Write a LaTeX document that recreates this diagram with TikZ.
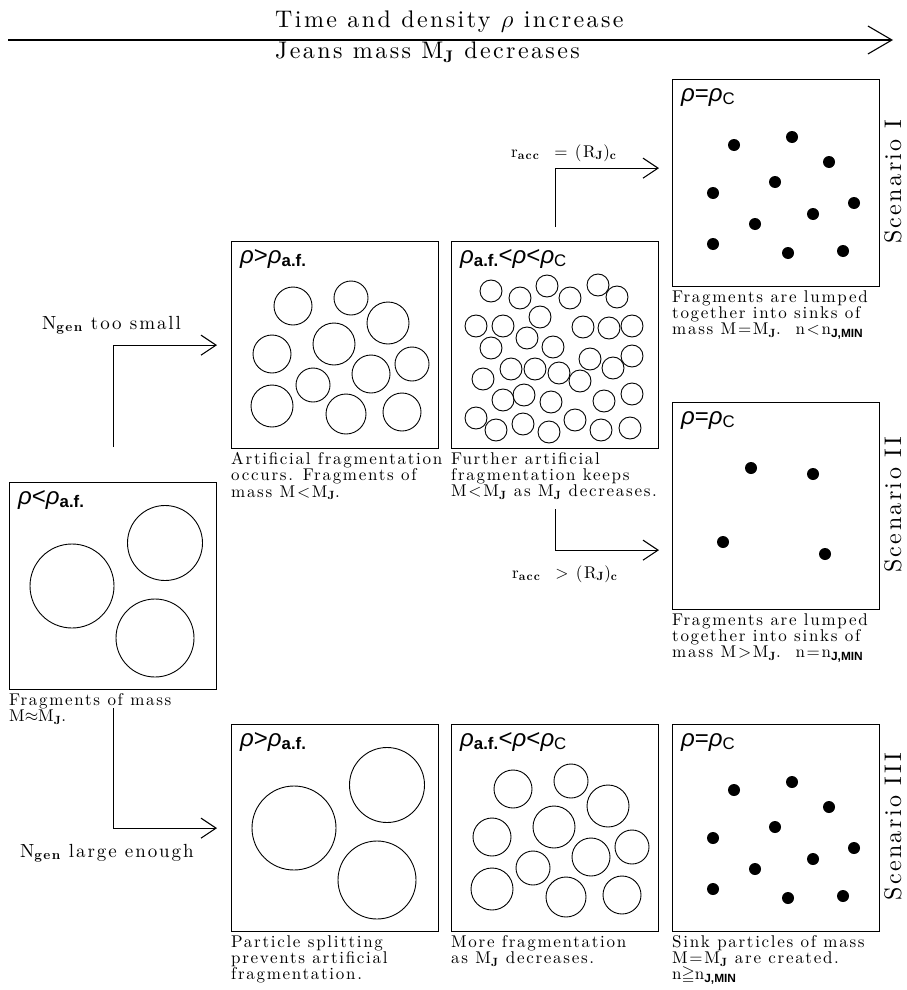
\documentclass[tikz,border=0pt]{standalone}
\usepackage{fontspec}
\usepackage{amssymb}
\usetikzlibrary{arrows.meta}
\newfontfamily\hv{Liberation Sans}
\newfontfamily\capf[LetterSpace=10,BoldFont=lmroman10-bold.otf]{lmroman10-regular.otf}
\newcommand\sbf[1]{\textsubscript{\bfseries #1}}
\newcommand\ssf[1]{\textsubscript{\hv\bfseries #1}}
\newcommand\rh{{\hv\itshape ρ}}
\newcommand\af{\textsubscript{\hv\bfseries a.f.}}
\newcommand\rc{\textsubscript{\hv C}}
\tikzset{
  box/.style={draw, line width=1.3pt, minimum width=207pt, minimum height=207pt, inner sep=0pt, anchor=north west},
  captxt/.style={font={\capf\fontsize{17}{16.2}\selectfont\lineskiplimit=-20pt}, align=left, inner sep=0pt},
  hd/.style={font={\capf\fontsize{24}{26}\selectfont}, inner sep=0pt},
  lbl/.style={font={\capf\fontsize{19}{20}\selectfont}, inner sep=0pt},
  blab/.style={font={\hv\fontsize{24}{26}\selectfont}, inner sep=0pt, anchor=base west},
  arr/.style={line width=1.1pt, -{Straight Barb[length=15pt,width=20pt]}},
  circ/.style={line width=0.9pt},
}
\begin{document}
\begin{tikzpicture}[x=1pt,y=-1pt]
\useasboundingbox (0,0) rectangle (907,990);
% header
\coordinate (h0) at (8,40);
\coordinate (h1) at (893,40);
\draw[line width=1.1pt, -{Straight Barb[length=24pt,width=28pt]}] (h0) -- (h1);
\node[hd, anchor=base west] (t1) at (275,28) {Time and density $\rho$ increase};
\node[hd, anchor=base west] (t2) at (275,59) {Jeans mass M\sbf{J} decreases};
% boxes
\node[box] (A) at (9,482) {};
\node[box] (B) at (231,241) {};
\node[box] (C) at (451,241) {};
\node[box] (D) at (672,79) {};
\node[box] (E) at (672,402) {};
\node[box] (F) at (231,724) {};
\node[box] (G) at (451,724) {};
\node[box] (H) at (672,724) {};
% box labels
\node[blab] (lA) at ([xshift=9pt,yshift=-22pt]A.north west) {\rh<\rh\af};
\node[blab] (lB) at ([xshift=9pt,yshift=-22pt]B.north west) {\rh>\rh\af};
\node[blab] (lC) at ([xshift=9pt,yshift=-22pt]C.north west) {\rh\af<\rh<\rh\rc};
\node[blab] (lD) at ([xshift=9pt,yshift=-22pt]D.north west) {\rh=\rh\rc};
\node[blab] (lE) at ([xshift=9pt,yshift=-22pt]E.north west) {\rh=\rh\rc};
\node[blab] (lF) at ([xshift=9pt,yshift=-22pt]F.north west) {\rh>\rh\af};
\node[blab] (lG) at ([xshift=9pt,yshift=-22pt]G.north west) {\rh\af<\rh<\rh\rc};
\node[blab] (lH) at ([xshift=9pt,yshift=-22pt]H.north west) {\rh=\rh\rc};
% three big circles
\foreach \b in {A,F}{
  \begin{scope}[shift={(\b.north west)}]
    \foreach \x/\y/\r in {156/61/37.5, 63/104/42, 146/156/39}
      \draw[circ] (\x,\y) circle (\r pt);
  \end{scope}
}
% eleven medium circles
\foreach \b in {B,G}{
  \begin{scope}[shift={(\b.north west)}]
    \foreach \x/\y/\r in {62/65/19, 120/57/17, 157/82/21, 103/103/21, 41/113/19, 181/123/17, 140/133/19, 82/144/17, 41/165/21, 115/173/20, 171/171/19}
      \draw[circ] (\x,\y) circle (\r pt);
  \end{scope}
}
% many small circles
\begin{scope}[shift={(C.north west)}]
  \foreach \x/\y in {40/50,69/57,96/45,119/57,147/44,166/56,25/85,52/85,89/76,132/86,158/87,181/85,40/107,76/97,102/106,139/118,162/127,181/115,60/128,84/128,108/132,32/138,129/140,52/159,73/154,100/161,153/160,181/153,25/177,45/189,72/183,98/191,124/179,150/189,179/187}
    \draw[circ] (\x,\y) circle (11pt);
\end{scope}
% sink dots
\foreach \b in {D,H}{
  \begin{scope}[shift={(\b.north west)}]
    \foreach \x/\y in {62/66, 120/58, 157/83, 103/103, 41/114, 182/124, 141/135, 83/145, 41/165, 116/174, 171/172}
      \fill (\x,\y) circle (6pt);
  \end{scope}
}
\begin{scope}[shift={(E.north west)}]
  \foreach \x/\y in {79/66, 141/72, 51/140, 153/152}
    \fill (\x,\y) circle (6pt);
\end{scope}
% captions
\node[captxt, anchor=north west] (cA) at ([yshift=-3pt]A.south west) {Fragments of mass\\M$\approx$M\sbf{J}.};
\node[captxt, anchor=north west] (cB) at ([yshift=-3pt]B.south west) {Artificial fragmentation\\occurs. Fragments of\\mass M<M\sbf{J}.};
\node[captxt, anchor=north west] (cC) at ([yshift=-3pt]C.south west) {Further artificial\\fragmentation keeps\\M<M\sbf{J} as M\sbf{J} decreases.};
\node[captxt, anchor=north west] (cD) at ([yshift=-3pt]D.south west) {Fragments are lumped\\together into sinks of\\mass M=M\sbf{J}.\ \ n<n\ssf{J,MIN}};
\node[captxt, anchor=north west] (cE) at ([yshift=-3pt]E.south west) {Fragments are lumped\\together into sinks of\\mass M>M\sbf{J}.\ \ n=n\ssf{J,MIN}};
\node[captxt, anchor=north west] (cF) at ([yshift=-3pt]F.south west) {Particle splitting\\prevents artificial\\fragmentation.};
\node[captxt, anchor=north west] (cG) at ([yshift=-3pt]G.south west) {More fragmentation\\as M\sbf{J} decreases.};
\node[captxt, anchor=north west] (cH) at ([yshift=-3pt]H.south west) {Sink particles of mass\\M=M\sbf{J} are created.\\n$\geqq$n\ssf{J,MIN}};
% scenario labels
\node[hd, rotate=90] (sI) at (893,182) {Scenario I};
\node[hd, rotate=90] (sII) at (893,505) {Scenario II};
\node[hd, rotate=90] (sIII) at (893,827) {Scenario III};
% connectors
\coordinate (a1s) at ([yshift=35pt]A.north);
\coordinate (a1e) at ([xshift=-14pt]B.west);
\draw[arr] (a1s) |- (a1e);
\coordinate (a2s) at ([yshift=-18pt]A.south);
\coordinate (a2e) at ([xshift=-14pt]F.west);
\draw[arr] (a2s) |- (a2e);
\coordinate (a3s) at ([yshift=14pt]C.north);
\coordinate (a3e) at ([xshift=-13pt,yshift=15pt]D.west);
\draw[arr] (a3s) |- (a3e);
\coordinate (a4s) at ([yshift=-60pt]C.south);
\coordinate (a4e) at ([xshift=-13pt,yshift=-44pt]E.west);
\draw[arr] (a4s) |- (a4e);
% connector labels
\node[lbl, anchor=base west] (l1) at (42,329) {N\sbf{gen} too small};
\node[lbl, anchor=base west] (l2) at (20,857) {N\sbf{gen} large enough};
\node[captxt, anchor=base west] (l3) at (511,157) {r\sbf{acc} \ =\  (R\sbf{J})\sbf{c}};
\node[captxt, anchor=base west] (l4) at (512,578) {r\sbf{acc} \ >\  (R\sbf{J})\sbf{c}};
\end{tikzpicture}
\end{document}
